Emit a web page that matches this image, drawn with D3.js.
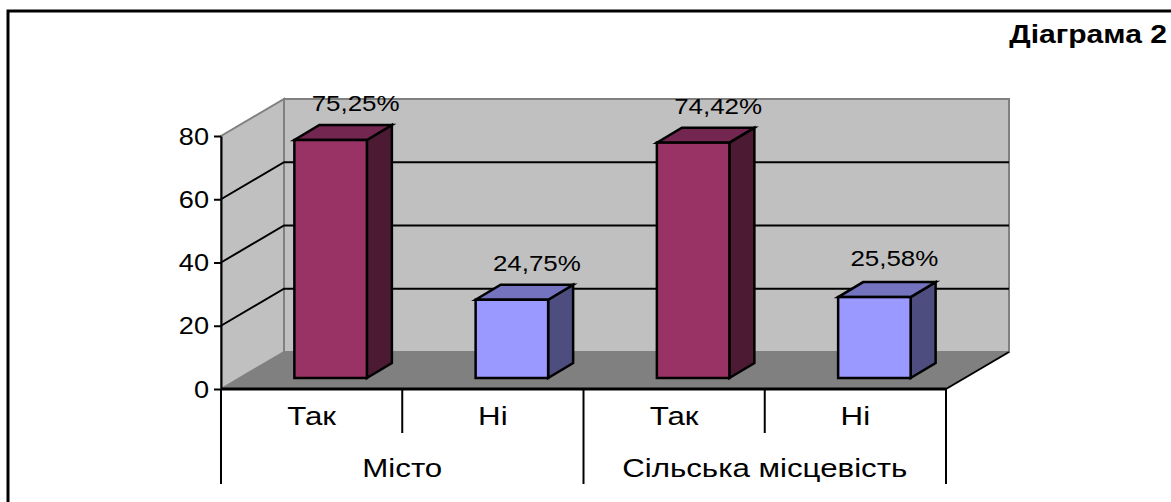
<!DOCTYPE html>
<html>
<head>
<meta charset="utf-8">
<script src="https://cdn.jsdelivr.net/npm/d3@7"></script>
<style>
  html, body { margin: 0; padding: 0; background: #fff; overflow: hidden; }
  text { font-family: "Liberation Sans", Arial, sans-serif; fill: #000; }
</style>
</head>
<body>
<svg class="graph"></svg>
<script>
const title = "Діаграма 2";
const answers = ["Так", "Ні", "Так", "Ні"];
const places = ["Місто", "Сільська місцевість"];
const values = [75.25, 24.75, 74.42, 25.58];
const valueLabels = ["75,25%", "24,75%", "74,42%", "25,58%"];
const yTicks = [0, 20, 40, 60, 80];
const barFronts = ["#993366", "#9999ff", "#993366", "#9999ff"];
const barTops = ["#732650", "#7373bf", "#732650", "#7373bf"];
const barSides = ["#4d1a33", "#4d4d80", "#4d1a33", "#4d4d80"];

const width = 1171;
const height = 502;
const margin = { top: 136, bottom: 113, right: 225, left: 221 };
const depth = { x: 63, y: -37 };    // wall offset of the 3d box
const barDepth = { x: 25, y: -15 };
const stretch = 1.18;               // the source picture is wider than tall

const svg = d3.select(".graph")
    .attr("width", width)
    .attr("height", height)
    .style("display", "block");

const x = d3.scaleBand()
    .domain(d3.range(answers.length))
    .range([margin.left, width - margin.right])
    .paddingInner(0.6)
    .paddingOuter(0.3);

const band = d3.scaleBand()
    .domain(d3.range(answers.length))
    .range([margin.left, width - margin.right]);

const y = d3.scaleLinear()
    .domain([0, 80])
    .range([height - margin.bottom, margin.top]);

const x0 = x.range()[0];
const x1 = x.range()[1];
const line = d3.line();
const closed = pts => line(pts) + "Z";

function putText(str, px, py, size, anchor, weight) {
  return svg.append("text")
      .attr("transform", `translate(${px},${py}) scale(${stretch},1)`)
      .attr("text-anchor", anchor || "middle")
      .attr("font-size", size)
      .attr("font-weight", weight || "normal")
      .text(str);
}

// outer frame, runs off the picture at right and bottom
svg.append("path")
    .attr("d", line([[8, height], [8, 11], [width, 11]]))
    .attr("fill", "none")
    .attr("stroke", "#000")
    .attr("stroke-width", 3);

putText(title, 1167, 43, 25.5, "end", "bold");

// walls and floor
svg.append("path")
    .attr("d", closed([[x0 + depth.x, y(0) + depth.y], [x1 + depth.x, y(0) + depth.y], [x1 + depth.x, y(80) + depth.y], [x0 + depth.x, y(80) + depth.y]]))
    .attr("fill", "#c0c0c0")
    .attr("stroke", "#808080")
    .attr("stroke-width", 2);

svg.append("path")
    .attr("d", closed([[x0, y(0)], [x0 + depth.x, y(0) + depth.y], [x0 + depth.x, y(80) + depth.y], [x0, y(80)]]))
    .attr("fill", "#c0c0c0")
    .attr("stroke", "#808080")
    .attr("stroke-width", 2);

svg.append("path")
    .attr("d", closed([[x0, y(0)], [x1, y(0)], [x1 + depth.x, y(0) + depth.y], [x0 + depth.x, y(0) + depth.y]]))
    .attr("fill", "#808080");

svg.append("path")
    .attr("d", line([[x1, y(0)], [x1 + depth.x, y(0) + depth.y]]))
    .attr("fill", "none")
    .attr("stroke", "#000")
    .attr("stroke-width", 2);

// gridlines
svg.append("g")
  .selectAll("path")
  .data(yTicks.filter(d => d > 0 && d < 80))
  .enter()
  .append("path")
    .attr("d", d => line([[x0, y(d)], [x0 + depth.x, y(d) + depth.y], [x1 + depth.x, y(d) + depth.y]]))
    .attr("fill", "none")
    .attr("stroke", "#000")
    .attr("stroke-width", 2);

// y axis
const yAxis = svg.append("g")
    .attr("transform", `translate(${x0},0)`)
    .call(d3.axisLeft(y).tickValues(yTicks).tickSize(7).tickSizeOuter(0).tickPadding(0));

yAxis.selectAll("path, line")
    .attr("stroke", "#000")
    .attr("stroke-width", 2);

yAxis.selectAll("text")
    .attr("font-size", 23)
    .attr("x", null)
    .attr("dy", null)
    .attr("y", 8)
    .attr("text-anchor", "end")
    .attr("transform", `translate(-12,0) scale(${stretch},1)`);

// bars
const bars = svg.append("g")
  .selectAll("g")
  .data(values)
  .enter()
  .append("g")
    .attr("stroke", "#000")
    .attr("stroke-width", 2.5)
    .attr("stroke-linejoin", "miter");

const barOrigin = { x: (depth.x - barDepth.x) / 2, y: (depth.y - barDepth.y) / 2 };
const barLeft = (d, i) => band(i) + (band.bandwidth() - x.bandwidth()) / 2 + barOrigin.x;
const barBase = () => y(0) + barOrigin.y;
const barHead = d => y(d) + barOrigin.y;

bars.append("path")
    .attr("fill", (d, i) => barSides[i])
    .attr("d", (d, i) => {
      const r = barLeft(d, i) + x.bandwidth();
      return closed([[r, barBase()], [r + barDepth.x, barBase() + barDepth.y], [r + barDepth.x, barHead(d) + barDepth.y], [r, barHead(d)]]);
    });

bars.append("path")
    .attr("fill", (d, i) => barTops[i])
    .attr("d", (d, i) => {
      const l = barLeft(d, i);
      const r = l + x.bandwidth();
      return closed([[l, barHead(d)], [r, barHead(d)], [r + barDepth.x, barHead(d) + barDepth.y], [l + barDepth.x, barHead(d) + barDepth.y]]);
    });

bars.append("rect")
    .attr("fill", (d, i) => barFronts[i])
    .attr("x", barLeft)
    .attr("y", barHead)
    .attr("width", x.bandwidth())
    .attr("height", d => barBase() - barHead(d));

// data labels, the last one sits a bit left and higher in the source
values.forEach((d, i) => {
  const cx = barLeft(d, i) + x.bandwidth() / 2 + barDepth.x + (i === 3 ? -5 : 0);
  putText(valueLabels[i], cx, barHead(d) + barDepth.y - (i === 3 ? 16 : 14), 22);
});

// x axis, two levels
svg.append("path")
    .attr("d", line([[x0, y(0)], [x1, y(0)]]))
    .attr("stroke", "#000")
    .attr("stroke-width", 3);

const innerSeps = [band(1), band(3)];
const outerSeps = [x0, band(2), x1];

svg.append("g")
  .selectAll("path")
  .data(innerSeps)
  .enter()
  .append("path")
    .attr("d", d => line([[d, y(0)], [d, y(0) + 44]]))
    .attr("stroke", "#000")
    .attr("stroke-width", 2);

svg.append("g")
  .selectAll("path")
  .data(outerSeps)
  .enter()
  .append("path")
    .attr("d", d => line([[d, y(0)], [d, y(0) + 95]]))
    .attr("stroke", "#000")
    .attr("stroke-width", 2);

answers.forEach((d, i) => {
  putText(d, band(i) + band.bandwidth() / 2, y(0) + 36, 26.5);
});

places.forEach((d, i) => {
  putText(d, band(i * 2 + 1), y(0) + 88, 26.5);
});
</script>
</body>
</html>
